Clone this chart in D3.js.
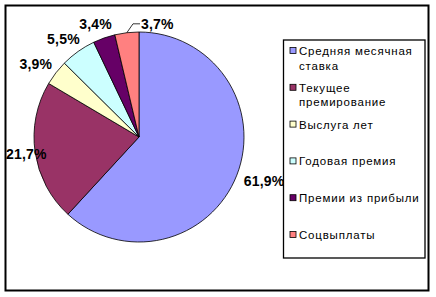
<!DOCTYPE html>
<html>
<head>
<meta charset="utf-8">
<script src="https://cdn.jsdelivr.net/npm/d3@7"></script>
<style>
  body { margin: 0; background: #fff; }
  svg { display: block; }
</style>
</head>
<body>
<div id="chart"></div>
<script>
// chart data
var categories = ["Средняя месячная ставка", "Текущее премирование", "Выслуга лет",
                  "Годовая премия", "Премии из прибыли", "Соцвыплаты"];
var values = [61.9, 21.7, 3.9, 5.5, 3.4, 3.7];
var valueLabels = ["61,9%", "21,7%", "3,9%", "5,5%", "3,4%", "3,7%"];
var colors = ["#9999FF", "#993366", "#FFFFCC", "#CCFFFF", "#660066", "#FF8080"];
// legend text split over lines as in the original
var legendLines = [["Средняя месячная", "ставка"], ["Текущее", "премирование"], ["Выслуга лет"],
                   ["Годовая премия"], ["Премии из прибыли"], ["Соцвыплаты"]];

var width = 436, height = 297;
var cx = 139, cy = 137, radius = 105;

var svg = d3.select("#chart").append("svg")
  .attr("width", width)
  .attr("height", height);

// outer frame
svg.append("rect")
  .attr("x", 5.5).attr("y", 5.5)
  .attr("width", 423).attr("height", 285)
  .attr("fill", "#fff")
  .attr("stroke", "#000")
  .attr("stroke-width", 2);

var pie = d3.pie().sort(null).value(d => d);
var arcs = pie(values);
var arc = d3.arc().innerRadius(0).outerRadius(radius);

var g = svg.append("g").attr("transform", "translate(" + cx + "," + cy + ")");

g.selectAll("path.slice")
  .data(arcs)
  .enter().append("path")
  .attr("class", "slice")
  .attr("d", arc)
  .attr("fill", (d, i) => colors[i])
  .attr("stroke", "#000")
  .attr("stroke-width", 0.8)
  .attr("stroke-linejoin", "round");

// data labels, "outside end" of each slice
var placed = [];
arcs.forEach(function (d, i) {
  var mid = (d.startAngle + d.endAngle) / 2;
  var s = Math.sin(mid), c = Math.cos(mid);
  var t = g.append("text")
    .attr("dy", "0.35em")
    .style("font", "bold 14px 'Liberation Sans', Arial, sans-serif")
    .style("letter-spacing", "0.2px")
    .attr("fill", "#000")
    .text(valueLabels[i]);
  var w = t.node().getComputedTextLength(), h = 12;
  var lr = radius + 9;
  var x = s * lr + s * w / 2;
  var y = -c * lr - c * h / 2;
  var left = x - w / 2;
  if (left + cx < 6) { left = 6 - cx; }
  var prev = placed[placed.length - 1];
  if (prev && left < prev.right && Math.abs(y - prev.y) < 14) {
    // overlaps the previous label: move right and add a leader line
    y = prev.y;
    left = prev.right + 29;
    g.append("path")
      .attr("d", d3.line()([[s * radius, -c * radius], [left - 8, y], [left - 1, y]]))
      .attr("fill", "none")
      .attr("stroke", "#000")
      .attr("stroke-width", 0.8);
  }
  placed.push({ left: left, right: left + w, y: y });
  t.attr("x", left).attr("y", y);
});

// legend
var lx = 283.5, ly = 40, lw = 141.5, lh = 218;
svg.append("rect")
  .attr("x", lx).attr("y", ly)
  .attr("width", lw).attr("height", lh)
  .attr("fill", "#fff")
  .attr("stroke", "#000")
  .attr("stroke-width", 1.3);

var rowY = d3.scaleLinear().domain([0, categories.length - 1]).range([50.5, 234.5]);

var items = svg.selectAll("g.legend-item")
  .data(categories)
  .enter().append("g")
  .attr("class", "legend-item")
  .attr("transform", (d, i) => "translate(" + (lx + 6.5) + "," + rowY(i) + ")");

items.append("rect")
  .attr("x", 0).attr("y", -3)
  .attr("width", 6).attr("height", 6)
  .attr("fill", (d, i) => colors[i])
  .attr("stroke", "#000")
  .attr("stroke-width", 0.8);

items.append("text")
  .attr("x", 9)
  .attr("y", 4.5)
  .style("font", "11.5px 'Liberation Sans', Arial, sans-serif")
  .style("letter-spacing", "0.8px")
  .attr("fill", "#000")
  .each(function (d, i) {
    var t = d3.select(this);
    legendLines[i].forEach(function (line, k) {
      t.append("tspan")
        .attr("x", 9)
        .attr("dy", k === 0 ? 0 : 14.5)
        .text(line);
    });
  });
</script>
</body>
</html>
